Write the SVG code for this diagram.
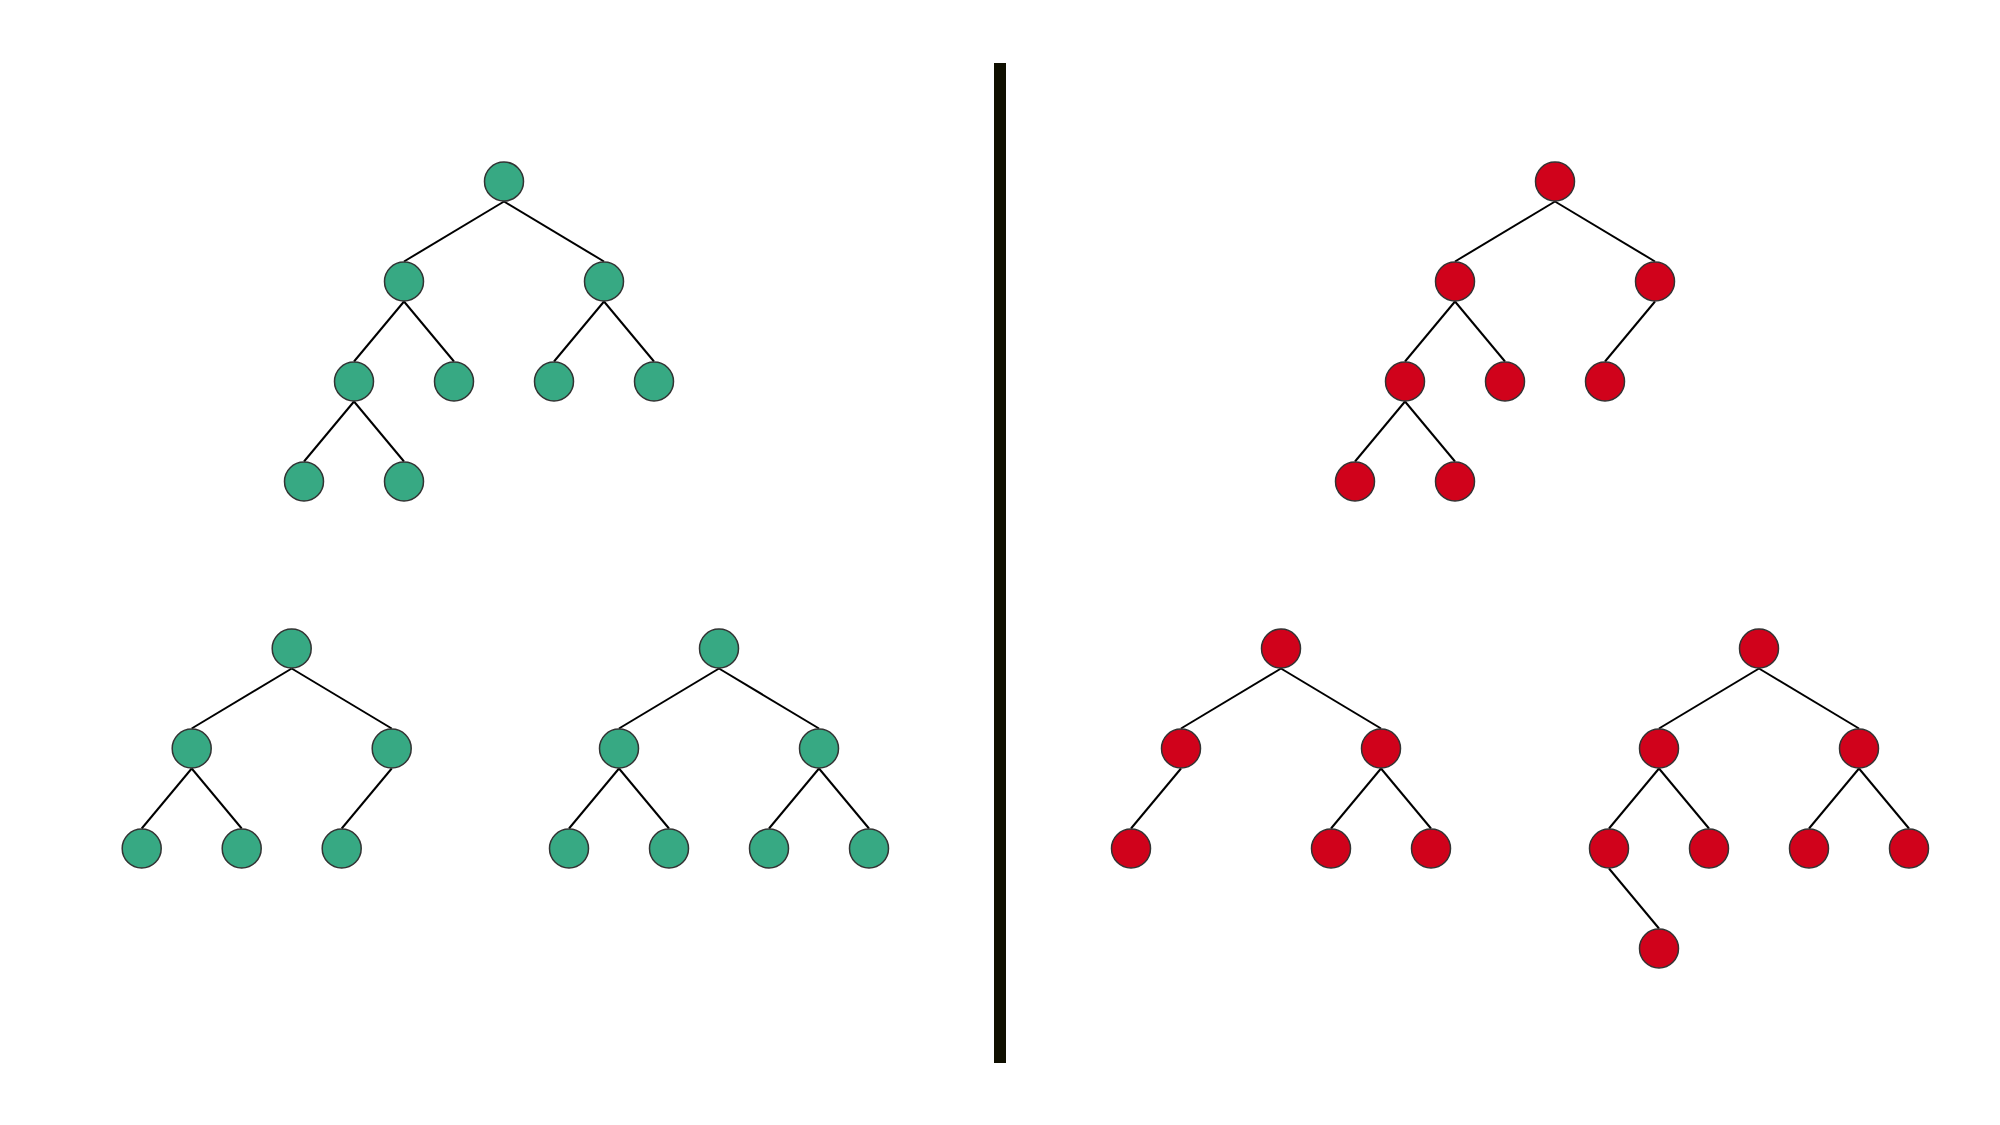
<svg xmlns="http://www.w3.org/2000/svg" width="2000" height="1125" viewBox="0 0 2000 1125">
<style>
.g{fill:#37a983;stroke:#333333;stroke-width:1.5}
.r{fill:#d0021b;stroke:#333333;stroke-width:1.5}
.e line{stroke:#000000;stroke-width:2}
</style>
<rect x="0" y="0" width="2000" height="1125" fill="#ffffff"/>
<rect id="divider" x="994" y="63" width="12" height="1000" fill="#0f0f00"/>
<g id="connectors" class="e">
<!-- green top tree -->
<line x1="504" y1="201.5" x2="404" y2="261.5"/>
<line x1="504" y1="201.5" x2="604" y2="261.5"/>
<line x1="404" y1="301.5" x2="354" y2="361.5"/>
<line x1="404" y1="301.5" x2="454" y2="361.5"/>
<line x1="604" y1="301.5" x2="554" y2="361.5"/>
<line x1="604" y1="301.5" x2="654" y2="361.5"/>
<line x1="354" y1="401.5" x2="304" y2="461.5"/>
<line x1="354" y1="401.5" x2="404" y2="461.5"/>
<!-- green bottom-left tree -->
<line x1="291.7" y1="668.5" x2="191.7" y2="728.5"/>
<line x1="291.7" y1="668.5" x2="391.7" y2="728.5"/>
<line x1="191.7" y1="768.5" x2="141.7" y2="828.5"/>
<line x1="191.7" y1="768.5" x2="241.7" y2="828.5"/>
<line x1="391.7" y1="768.5" x2="341.7" y2="828.5"/>
<!-- green bottom-right tree -->
<line x1="719" y1="668.5" x2="619" y2="728.5"/>
<line x1="719" y1="668.5" x2="819" y2="728.5"/>
<line x1="619" y1="768.5" x2="569" y2="828.5"/>
<line x1="619" y1="768.5" x2="669" y2="828.5"/>
<line x1="819" y1="768.5" x2="769" y2="828.5"/>
<line x1="819" y1="768.5" x2="869" y2="828.5"/>
<!-- red top tree -->
<line x1="1555" y1="201.5" x2="1455" y2="261.5"/>
<line x1="1555" y1="201.5" x2="1655" y2="261.5"/>
<line x1="1455" y1="301.5" x2="1405" y2="361.5"/>
<line x1="1455" y1="301.5" x2="1505" y2="361.5"/>
<line x1="1655" y1="301.5" x2="1605" y2="361.5"/>
<line x1="1405" y1="401.5" x2="1355" y2="461.5"/>
<line x1="1405" y1="401.5" x2="1455" y2="461.5"/>
<!-- red bottom-left tree -->
<line x1="1281" y1="668.5" x2="1181" y2="728.5"/>
<line x1="1281" y1="668.5" x2="1381" y2="728.5"/>
<line x1="1181" y1="768.5" x2="1131" y2="828.5"/>
<line x1="1381" y1="768.5" x2="1331" y2="828.5"/>
<line x1="1381" y1="768.5" x2="1431" y2="828.5"/>
<!-- red bottom-right tree -->
<line x1="1759" y1="668.5" x2="1659" y2="728.5"/>
<line x1="1759" y1="668.5" x2="1859" y2="728.5"/>
<line x1="1659" y1="768.5" x2="1609" y2="828.5"/>
<line x1="1659" y1="768.5" x2="1709" y2="828.5"/>
<line x1="1859" y1="768.5" x2="1809" y2="828.5"/>
<line x1="1859" y1="768.5" x2="1909" y2="828.5"/>
<line x1="1609" y1="868.5" x2="1659" y2="928.5"/>
</g>
<g id="green-top">
<circle id="gt1" class="g" cx="504" cy="181.5" r="19.5"/>
<circle id="gt2" class="g" cx="404" cy="281.5" r="19.5"/>
<circle id="gt3" class="g" cx="604" cy="281.5" r="19.5"/>
<circle id="gt4" class="g" cx="354" cy="381.5" r="19.5"/>
<circle id="gt5" class="g" cx="454" cy="381.5" r="19.5"/>
<circle id="gt6" class="g" cx="554" cy="381.5" r="19.5"/>
<circle id="gt7" class="g" cx="654" cy="381.5" r="19.5"/>
<circle id="gt8" class="g" cx="304" cy="481.5" r="19.5"/>
<circle id="gt9" class="g" cx="404" cy="481.5" r="19.5"/>
</g>
<g id="green-bl">
<circle id="gl1" class="g" cx="291.7" cy="648.5" r="19.5"/>
<circle id="gl2" class="g" cx="191.7" cy="748.5" r="19.5"/>
<circle id="gl3" class="g" cx="391.7" cy="748.5" r="19.5"/>
<circle id="gl4" class="g" cx="141.7" cy="848.5" r="19.5"/>
<circle id="gl5" class="g" cx="241.7" cy="848.5" r="19.5"/>
<circle id="gl6" class="g" cx="341.7" cy="848.5" r="19.5"/>
</g>
<g id="green-br">
<circle id="gr1" class="g" cx="719" cy="648.5" r="19.5"/>
<circle id="gr2" class="g" cx="619" cy="748.5" r="19.5"/>
<circle id="gr3" class="g" cx="819" cy="748.5" r="19.5"/>
<circle id="gr4" class="g" cx="569" cy="848.5" r="19.5"/>
<circle id="gr5" class="g" cx="669" cy="848.5" r="19.5"/>
<circle id="gr6" class="g" cx="769" cy="848.5" r="19.5"/>
<circle id="gr7" class="g" cx="869" cy="848.5" r="19.5"/>
</g>
<g id="red-top">
<circle id="rt1" class="r" cx="1555" cy="181.5" r="19.5"/>
<circle id="rt2" class="r" cx="1455" cy="281.5" r="19.5"/>
<circle id="rt3" class="r" cx="1655" cy="281.5" r="19.5"/>
<circle id="rt4" class="r" cx="1405" cy="381.5" r="19.5"/>
<circle id="rt5" class="r" cx="1505" cy="381.5" r="19.5"/>
<circle id="rt6" class="r" cx="1605" cy="381.5" r="19.5"/>
<circle id="rt7" class="r" cx="1355" cy="481.5" r="19.5"/>
<circle id="rt8" class="r" cx="1455" cy="481.5" r="19.5"/>
</g>
<g id="red-bl">
<circle id="rl1" class="r" cx="1281" cy="648.5" r="19.5"/>
<circle id="rl2" class="r" cx="1181" cy="748.5" r="19.5"/>
<circle id="rl3" class="r" cx="1381" cy="748.5" r="19.5"/>
<circle id="rl4" class="r" cx="1131" cy="848.5" r="19.5"/>
<circle id="rl5" class="r" cx="1331" cy="848.5" r="19.5"/>
<circle id="rl6" class="r" cx="1431" cy="848.5" r="19.5"/>
</g>
<g id="red-br">
<circle id="rr1" class="r" cx="1759" cy="648.5" r="19.5"/>
<circle id="rr2" class="r" cx="1659" cy="748.5" r="19.5"/>
<circle id="rr3" class="r" cx="1859" cy="748.5" r="19.5"/>
<circle id="rr4" class="r" cx="1609" cy="848.5" r="19.5"/>
<circle id="rr5" class="r" cx="1709" cy="848.5" r="19.5"/>
<circle id="rr6" class="r" cx="1809" cy="848.5" r="19.5"/>
<circle id="rr7" class="r" cx="1909" cy="848.5" r="19.5"/>
<circle id="rr8" class="r" cx="1659" cy="948.5" r="19.5"/>
</g>
</svg>
